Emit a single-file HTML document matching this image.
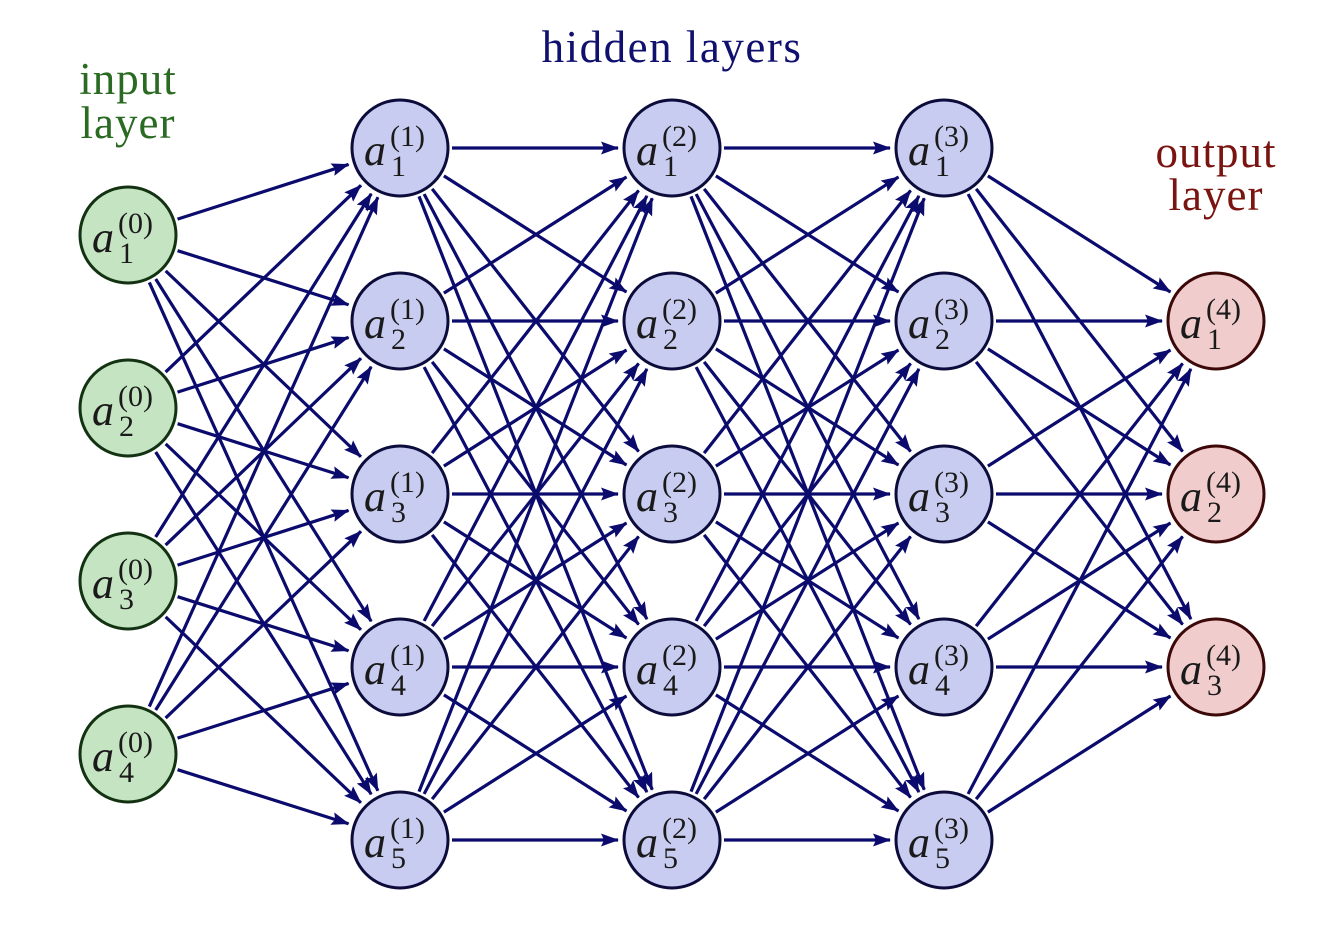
<!DOCTYPE html>
<html><head><meta charset="utf-8"><style>
html,body{margin:0;padding:0;background:#fff;}
svg{display:block;}
text{font-family:"Liberation Serif","DejaVu Serif",serif;}
</style></head><body>
<svg id="nn" width="1318" height="952" viewBox="0 0 1318 952" xmlns="http://www.w3.org/2000/svg">
<defs>
<marker id="ah" markerWidth="18" markerHeight="13" refX="17" refY="6.5" orient="auto" markerUnits="userSpaceOnUse">
<path d="M0,0 L18,6.5 L0,13 L3,6.5 Z" fill="#0b0b6e"/>
</marker>
</defs>
<g id="edges"></g>
<g id="nodes"></g>
<text x="128" y="94" text-anchor="middle" font-size="45" letter-spacing="1" fill="#2a6a22">input</text>
<text x="128" y="138" text-anchor="middle" font-size="45" letter-spacing="1" fill="#2a6a22">layer</text>
<text x="672" y="62" text-anchor="middle" font-size="45" letter-spacing="1.5" fill="#10106e">hidden layers</text>
<text x="1216" y="167" text-anchor="middle" font-size="45" letter-spacing="1" fill="#7a1410">output</text>
<text x="1216" y="210" text-anchor="middle" font-size="45" letter-spacing="1" fill="#7a1410">layer</text>
</svg>
<script>
const layerSizes = [4, 5, 5, 5, 3];
const layerX = [128, 400, 672, 944, 1216];
const nodeY = {4: [235, 408, 581, 754], 5: [148, 321, 494, 667, 840], 3: [321, 494, 667]};
const fills = ['#c5e4c2', '#c9ccf1', '#c9ccf1', '#c9ccf1', '#f1cccc'];
const strokes = ['#123212', '#0c0c3c', '#0c0c3c', '#0c0c3c', '#3c0808'];
const R = 48;
const NS = 'http://www.w3.org/2000/svg';
const eg = document.getElementById('edges');
const ng = document.getElementById('nodes');
function pos(l, i) { return [layerX[l], nodeY[layerSizes[l]][i]]; }
for (let l = 0; l < layerSizes.length - 1; l++) {
  for (let i = 0; i < layerSizes[l]; i++) {
    for (let j = 0; j < layerSizes[l + 1]; j++) {
      const [x1, y1] = pos(l, i), [x2, y2] = pos(l + 1, j);
      const dx = x2 - x1, dy = y2 - y1, d = Math.hypot(dx, dy), ux = dx / d, uy = dy / d;
      const ln = document.createElementNS(NS, 'line');
      ln.setAttribute('x1', x1 + ux * 52); ln.setAttribute('y1', y1 + uy * 52);
      ln.setAttribute('x2', x2 - ux * 54); ln.setAttribute('y2', y2 - uy * 54);
      ln.setAttribute('stroke', '#0b0b6e'); ln.setAttribute('stroke-width', '3.2');
      ln.setAttribute('marker-end', 'url(#ah)');
      
      
      eg.appendChild(ln);
    }
  }
}
for (let l = 0; l < layerSizes.length; l++) {
  for (let i = 0; i < layerSizes[l]; i++) {
    const [x, y] = pos(l, i);
    const g = document.createElementNS(NS, 'g');
    
    
    const c = document.createElementNS(NS, 'circle');
    c.setAttribute('cx', x); c.setAttribute('cy', y); c.setAttribute('r', R);
    c.setAttribute('fill', fills[l]); c.setAttribute('stroke', strokes[l]); c.setAttribute('stroke-width', '3');
    g.appendChild(c);
    const t = document.createElementNS(NS, 'text');
    t.setAttribute('fill', '#1a1a1a');
    t.innerHTML = `<tspan x="${x - 36}" y="${y + 17}" font-size="44" font-style="italic">a</tspan>` +
      `<tspan x="${x - 9}" y="${y + 28}" font-size="30">${i + 1}</tspan>` +
      `<tspan x="${x - 10}" y="${y - 2}" font-size="30">(${l})</tspan>`;
    g.appendChild(t);
    ng.appendChild(g);
  }
}
</script>
</body></html>
